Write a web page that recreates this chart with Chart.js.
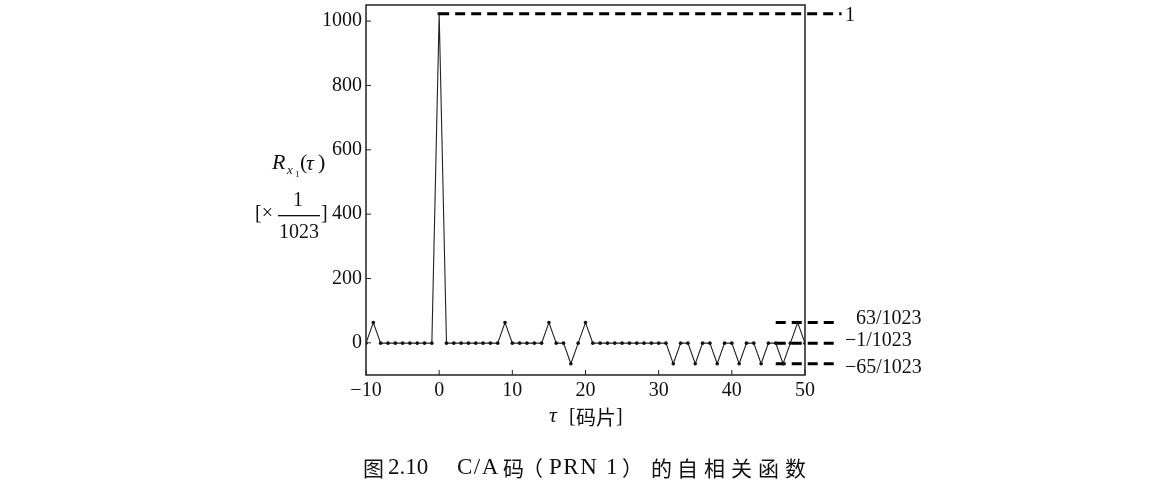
<!DOCTYPE html>
<html>
<head>
<meta charset="utf-8">
<script src="https://cdn.jsdelivr.net/npm/chart.js@4/dist/chart.umd.min.js"></script>
<style>
html,body{margin:0;padding:0;background:#fff;}
canvas{display:block;}
</style>
</head>
<body>
<canvas id="acf" width="1156" height="496"></canvas>
<script>
// lag in chips, autocorrelation in units of 1/1023
const lags=[-10,-9,-8,-7,-6,-5,-4,-3,-2,-1,0,1,2,3,4,5,6,7,8,9,10,11,12,13,14,15,16,17,18,19,20,
  21,22,23,24,25,26,27,28,29,30,31,32,33,34,35,36,37,38,39,40,41,42,43,44,45,46,47,48,49,50];
const values=[-1,63,-1,-1,-1,-1,-1,-1,-1,-1,1023,-1,-1,-1,-1,-1,-1,-1,-1,63,-1,
  -1,-1,-1,-1,63,-1,-1,-65,-1,63,
  -1,-1,-1,-1,-1,-1,-1,-1,-1,-1,-1,-65,-1,-1,-65,-1,-1,-65,-1,-1,-65,-1,-1,-65,-1,-1,-65,-1,63,-1];
const xTicks=[-10,0,10,20,30,40,50];
const yTicks=[0,200,400,600,800,1000];
const peakLevel=1023, peakLabel="1";
const sideLevels=[63,-1,-65];
const sideLabels=["63/1023","\u22121/1023","\u221265/1023"];

const serif="'Liberation Serif','DejaVu Serif',serif";
const cjk="'Noto Sans CJK SC',sans-serif";

const points=lags.map((x,i)=>({x:x,y:values[i]}));

const dashed=(x0,x1,y)=>({
  data:[{x:x0,y:y},{x:x1,y:y}],
  borderColor:"#000",borderWidth:3,borderDash:[10,6],
  pointRadius:0,clip:false,tension:0
});

const datasets=[{
  data:points,borderColor:"#222",borderWidth:1.1,
  pointRadius:1.8,pointBackgroundColor:"#111",pointBorderWidth:0,tension:0
}];
datasets.push(dashed(0,55,peakLevel));
sideLevels.forEach(v=>datasets.push(dashed(46,54.5,v)));

// caption pieces: [text, x, latin?]
const caption=[["\u56fe",363,0],["2.10",388,1],["C/A",457,1],["\u7801",503,0],["\uff08",522,0],["PRN",549,1],["1",606,1],
  ["\uff09",622,0],["\u7684",651,0],["\u81ea",677,0],["\u76f8",704,0],["\u5173",731,0],["\u51fd",758,0],["\u6570",785,0]];

const decor={
  id:"decor",
  afterDraw(chart){
    const c=chart.ctx, a=chart.chartArea, xs=chart.scales.x, ys=chart.scales.y;
    c.save();
    c.strokeStyle="#222";c.lineWidth=1.5;
    c.strokeRect(a.left,a.top,a.right-a.left,a.bottom-a.top);
    // inward ticks
    c.lineWidth=1;
    xTicks.forEach(v=>{
      const px=xs.getPixelForValue(v);
      c.beginPath();c.moveTo(px,a.bottom);c.lineTo(px,a.bottom-5);c.stroke();
    });
    yTicks.forEach(v=>{
      const py=ys.getPixelForValue(v);
      c.beginPath();c.moveTo(a.left,py);c.lineTo(a.left+5,py);c.stroke();
    });
    c.fillStyle="#111";c.textBaseline="middle";c.textAlign="left";
    // right side labels
    c.font="20px "+serif;
    c.fillText(peakLabel,845,ys.getPixelForValue(peakLevel)+2);
    const lx=[856,845,845], dy=[-4,-2,4];
    sideLevels.forEach((v,i)=>c.fillText(sideLabels[i],lx[i],ys.getPixelForValue(v)+dy[i]));
    // y title
    c.font="italic 22px "+serif;
    c.fillText("R",272,163);
    c.font="italic 13px "+serif;
    c.fillText("x",287,171);
    c.font="9px "+serif;
    c.fillText("1",295,175);
    c.font="22px "+serif;
    c.fillText("(",300,163);
    c.font="italic 22px "+serif;
    c.fillText("\u03c4",306,164);
    c.font="22px "+serif;
    c.fillText(")",318,163);
    c.font="20px "+serif;
    c.fillText("[\u00d7",255,214);
    c.textAlign="center";
    c.fillText("1",298,201);
    c.fillText("1023",299,233);
    c.fillRect(278,215,42,1.3);
    c.textAlign="left";
    c.fillText("]",321,214);
    // x title
    c.font="italic 22px "+serif;
    c.fillText("\u03c4",549,416);
    c.font="20px "+serif;
    c.fillText("[",569,417);
    c.fillText("]",616,417);
    c.font="20px "+cjk;
    c.fillText("\u7801\u7247",576,417);
    // caption
    caption.forEach(p=>{
      if(p[2]){c.font="23px "+serif;c.letterSpacing=p[0]==="2.10"?"0px":"1.5px";}
      else{c.font="21px "+cjk;c.letterSpacing="0px";}
      c.fillText(p[0],p[1],468);
    });
    c.restore();
  }
};

new Chart(document.getElementById("acf"),{
  type:"line",
  data:{datasets:datasets},
  options:{
    responsive:false,animation:false,
    layout:{padding:{left:0,right:351,top:5,bottom:0}},
    plugins:{legend:{display:false},tooltip:{enabled:false}},
    scales:{
      x:{
        type:"linear",min:-10,max:50,
        afterBuildTicks:s=>{s.ticks=xTicks.map(v=>({value:v}));},
        afterFit:s=>{s.height=121;},
        grid:{display:false,drawTicks:false},border:{display:false},
        ticks:{color:"#111",font:{family:serif,size:20},padding:4,maxRotation:0,
          callback:v=>v<0?"\u2212"+Math.abs(v):String(v)}
      },
      y:{
        min:-100,max:1050,
        afterBuildTicks:s=>{s.ticks=yTicks.map(v=>({value:v}));},
        afterFit:s=>{s.width=366;s.paddingTop=0;s.paddingBottom=0;},
        grid:{display:false,drawTicks:false},border:{display:false},
        ticks:{color:"#111",font:{family:serif,size:20},padding:4,callback:v=>String(v)}
      }
    }
  },
  plugins:[decor]
});
</script>
</body>
</html>
